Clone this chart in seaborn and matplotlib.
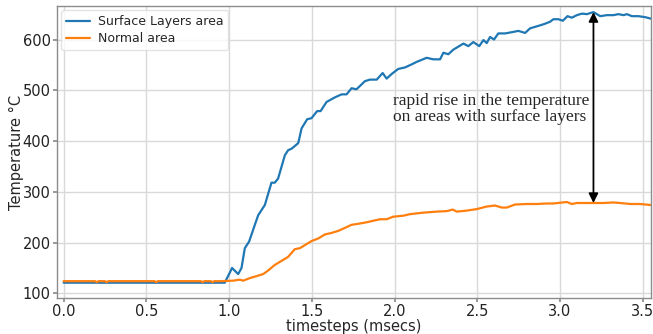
import numpy as np
import pandas as pd
import matplotlib
matplotlib.use("Agg")
import matplotlib.pyplot as plt
import seaborn as sns

# Surface-layer region temperature over time
surf_t = [0.00, 0.10, 0.20, 0.30, 0.40, 0.50, 0.60, 0.70, 0.80, 0.90, 0.974,
          1.018, 1.055, 1.075, 1.095, 1.121, 1.145, 1.176, 1.216, 1.256, 1.276,
          1.296, 1.337, 1.357, 1.378, 1.418, 1.438, 1.472, 1.498, 1.532, 1.553,
          1.589, 1.639, 1.680, 1.710, 1.740, 1.770, 1.821, 1.851, 1.892, 1.928,
          1.952, 1.982, 2.022, 2.063, 2.103, 2.134, 2.194, 2.234, 2.275, 2.295,
          2.325, 2.355, 2.416, 2.446, 2.476, 2.512, 2.537, 2.557, 2.577, 2.601,
          2.627, 2.668, 2.718, 2.748, 2.789, 2.819, 2.860, 2.900, 2.940, 2.960,
          2.990, 3.017, 3.045, 3.071, 3.102, 3.132, 3.162, 3.202, 3.243, 3.283,
          3.323, 3.353, 3.384, 3.404, 3.434, 3.474, 3.515, 3.550]
surf_temp = [121, 121, 121, 121, 121, 121, 121, 121, 121, 121, 121,
             150, 138, 150, 189, 202, 225, 254, 274, 318, 318,
             326, 372, 382, 385, 396, 425, 443, 445, 459, 459,
             477, 486, 492, 492, 504, 502, 518, 521, 521, 534,
             523, 532, 542, 545, 551, 556, 564, 561, 561, 574,
             571, 580, 592, 587, 595, 587, 599, 593, 605, 600,
             612, 612, 615, 617, 613, 622, 626, 630, 635, 640,
             640, 637, 646, 643, 648, 651, 650, 654, 646, 648,
             648, 650, 648, 650, 646, 646, 644, 641]

# Normal region temperature over time
norm_t = [0.00, 0.10, 0.19, 0.20, 0.21, 0.25, 0.26, 0.27, 0.40, 0.55, 0.56,
          0.57, 0.70, 0.83, 0.84, 0.85, 0.89, 0.90, 0.91, 0.944, 1.024,
          1.065, 1.085, 1.125, 1.166, 1.206, 1.236, 1.276, 1.317, 1.357, 1.397,
          1.428, 1.458, 1.498, 1.538, 1.579, 1.619, 1.659, 1.700, 1.740, 1.780,
          1.831, 1.871, 1.912, 1.952, 1.992, 2.053, 2.093, 2.174, 2.255, 2.315,
          2.352, 2.376, 2.436, 2.497, 2.557, 2.607, 2.648, 2.678, 2.728, 2.799,
          2.860, 2.920, 2.960, 3.041, 3.071, 3.102, 3.142, 3.202, 3.263, 3.323,
          3.364, 3.424, 3.485, 3.550]
norm_temp = [124, 124, 124, 122, 124, 124, 122, 124, 124, 124, 122,
             124, 124, 124, 122, 124, 124, 122, 124, 124, 125,
             127, 125, 130, 134, 138, 145, 156, 164, 172, 187,
             189, 195, 203, 208, 216, 219, 223, 229, 235, 237,
             240, 243, 246, 246, 251, 253, 256, 259, 261, 262,
             265, 261, 263, 266, 271, 273, 269, 269, 275, 276,
             276, 277, 277, 280, 276, 278, 278, 278, 278, 279,
             278, 276, 276, 274]

series_names = ["Surface Layers area", "Normal area"]
annotation_text = "rapid rise in the temperature\non areas with surface layers"
x_ticks = [0.0, 0.5, 1.0, 1.5, 2.0, 2.5, 3.0, 3.5]
y_ticks = [100, 200, 300, 400, 500, 600]

df = pd.concat([
    pd.DataFrame({"time": surf_t, "temp": surf_temp, "area": series_names[0]}),
    pd.DataFrame({"time": norm_t, "temp": norm_temp, "area": series_names[1]}),
], ignore_index=True)

sns.set_theme(style="whitegrid")
plt.rcParams["font.family"] = ["DejaVu Sans"]
plt.rcParams["axes.edgecolor"] = "#8c8c8c"
plt.rcParams["grid.color"] = "#d9d9d9"

fig = plt.figure(figsize=(6.53, 3.34), dpi=100)
ax = fig.add_axes([0.0873, 0.108, 0.9097, 0.874])

sns.lineplot(data=df, x="time", y="temp", hue="area", hue_order=series_names,
             palette=["#1f77b4", "#ff7f0e"], linewidth=1.6, ax=ax, sort=False)

ax.set_xlim(-0.04, 3.55)
ax.set_ylim(91, 666)
ax.set_xticks(x_ticks)
ax.set_xticklabels([f"{v:.1f}" for v in x_ticks])
ax.set_yticks(y_ticks)
ax.tick_params(axis="both", labelsize=10.5, length=3, color="#8c8c8c",
               colors="#222222", pad=1.5)
ax.tick_params(axis="both", which="both", left=True, bottom=True)
ax.set_xlabel("timesteps (msecs)", fontsize=10.5, labelpad=0)
ax.set_ylabel("Temperature °C", fontsize=10.5, va="center")
ax.yaxis.set_label_coords(-0.068, 0.5)
for s in ax.spines.values():
    s.set_linewidth(1.0)

leg = ax.legend(loc="upper left", fontsize=9, frameon=True, borderpad=0.4,
                handlelength=1.9, handletextpad=0.6, labelspacing=0.3,
                borderaxespad=0.35)
leg.get_frame().set_edgecolor("#dddddd")

# Double-headed arrow spanning the peak gap between the two regions
peak_i = int(np.argmax(surf_temp))
peak_t = surf_t[peak_i]
peak_hot = surf_temp[peak_i]
peak_norm = norm_temp[norm_t.index(3.202)]
ax.annotate("", xy=(peak_t, peak_hot), xytext=(peak_t, peak_norm),
            arrowprops=dict(arrowstyle="<|-|>", color="black", lw=1.3,
                            mutation_scale=14, shrinkA=0, shrinkB=0))
ax.text(1.99, 464, annotation_text, family=["Liberation Serif"], fontsize=12.5,
        va="center", ha="left", linespacing=1.0)

fig.savefig("out.png", dpi=100)
